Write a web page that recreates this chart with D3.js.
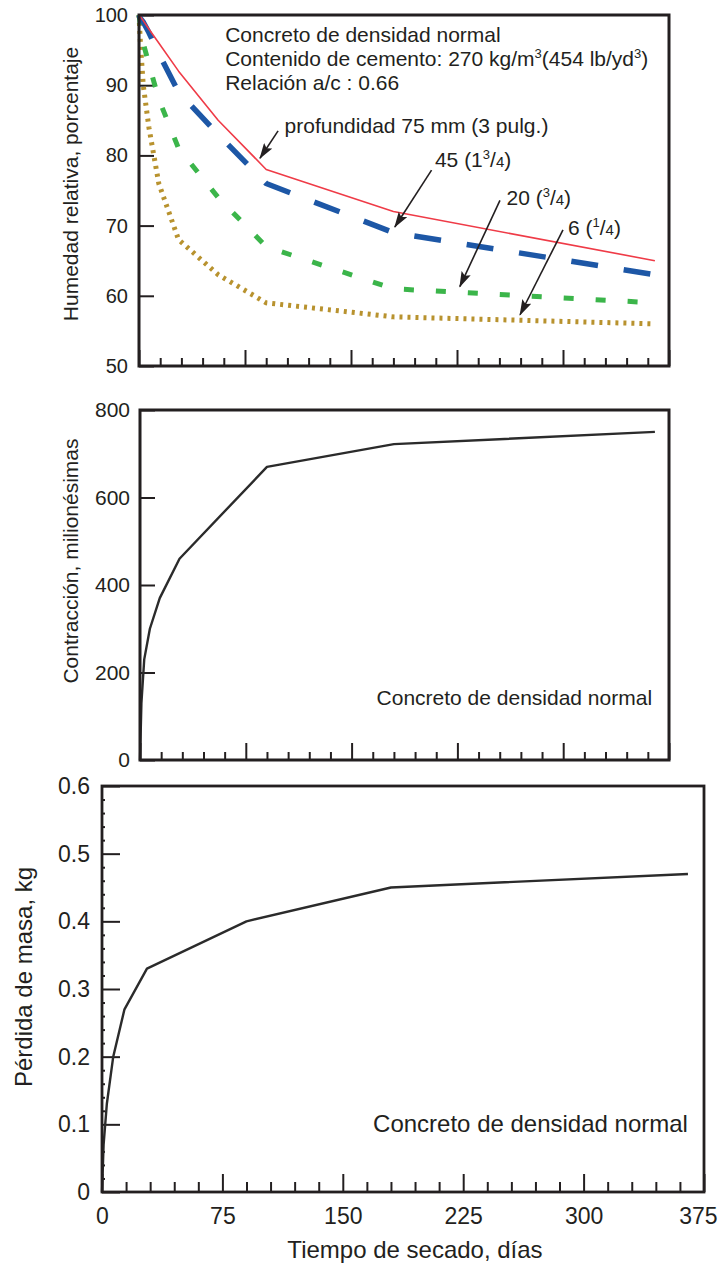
<!DOCTYPE html>
<html>
<head>
<meta charset="utf-8">
<script src="https://cdn.jsdelivr.net/npm/d3@7"></script>
<style>
body { margin: 0; background: #fff; }
svg { display: block; font-family: "Liberation Sans", Arial, sans-serif; }
</style>
</head>
<body>
<svg id="chart"></svg>
<script>
// Data: relative humidity (%) at four depths
const humDays = [0, 1, 3, 7, 14, 28, 56, 90, 180, 365];
const hum75 = [100, 99.8, 99.2, 98, 96, 92, 85, 78, 72, 65];
const hum45 = [100, 99.5, 99, 97.5, 94.5, 89, 83, 76, 69, 63];
const hum20 = [100, 98.5, 96, 93, 88, 81, 74, 67, 61, 59];
const hum6 = [100, 96, 90, 84, 76, 68, 63, 59, 57, 56];

// Data: shrinkage (millionths) and mass loss (kg)
const shrinkDays = [0, 1, 3, 7, 14, 28, 90, 180, 365];
const shrinkVals = [0, 130, 230, 300, 370, 460, 670, 722, 750];
const massDays = [0, 1, 3, 7, 14, 28, 90, 180, 365];
const massVals = [0, 0.07, 0.13, 0.20, 0.27, 0.33, 0.40, 0.45, 0.47];

// Tick values
const xMajor = [0, 75, 150, 225, 300, 375];
const xMinor = d3.range(15, 375, 15).filter(d => d % 75 !== 0);
const humTicks = [50, 60, 70, 80, 90, 100];
const shrinkTicks = [0, 200, 400, 600, 800];
const massTicks = [0, 0.1, 0.2, 0.3, 0.4, 0.5, 0.6];
const massMinor = d3.range(0.02, 0.6, 0.02).filter(d => Math.abs(d * 10 - Math.round(d * 10)) > 0.01);

const ink = "#231f20";
const width = 720;
const height = 1265;

const svg = d3.select("#chart")
    .attr("width", width)
    .attr("height", height);

svg.append("rect").attr("width", width).attr("height", height).attr("fill", "#fff");

// arrow head
svg.append("defs").append("marker")
    .attr("id", "head")
    .attr("viewBox", "0 0 16 10")
    .attr("refX", 15)
    .attr("refY", 5)
    .attr("markerUnits", "userSpaceOnUse")
    .attr("markerWidth", 16)
    .attr("markerHeight", 10)
    .attr("orient", "auto")
    .append("path")
    .attr("d", "M0,0 L16,5 L0,10 L3,5 z")
    .attr("fill", ink);

// Draws frame, ticks and labels of one panel, returns its scales
function drawPanel(p) {
    const x = d3.scaleLinear().domain([0, 375]).range([p.left, p.right]);
    const y = d3.scaleLinear().domain(p.yDomain).range([p.bottom, p.top]);
    const g = svg.append("g");

    // x minor ticks
    g.append("g")
        .attr("transform", `translate(0,${p.bottom})`)
        .call(d3.axisBottom(x).tickValues(xMinor).tickSize(-p.xMinorLen).tickFormat(""));
    // x major ticks
    const xa = g.append("g")
        .attr("transform", `translate(0,${p.bottom})`)
        .call(d3.axisBottom(x).tickValues(xMajor).tickSize(-p.xMajorLen).tickPadding(16)
            .tickFormat(p.xLabels ? d3.format("d") : ""));
    xa.selectAll("text").attr("font-size", p.tickFont).attr("fill", ink)
        .attr("font-family", "Liberation Sans, Arial, sans-serif");
    xa.selectAll("text").filter(d => d === 375).attr("text-anchor", "end").attr("dx", 13);

    if (p.yMinor) {
        g.append("g")
            .attr("transform", `translate(${p.left},0)`)
            .call(d3.axisLeft(y).tickValues(p.yMinor).tickSize(-3).tickFormat(""));
    }
    const ya = g.append("g")
        .attr("transform", `translate(${p.left},0)`)
        .call(d3.axisLeft(y).tickValues(p.yTicks).tickSize(-p.yTickLen).tickPadding(p.yPad)
            .tickFormat(p.yFormat));
    ya.selectAll("text").attr("font-size", p.tickFont).attr("fill", ink)
        .attr("font-family", "Liberation Sans, Arial, sans-serif");

    g.selectAll(".domain").remove();
    g.selectAll(".tick line").attr("stroke", ink).attr("stroke-width", 2);

    // y title
    svg.append("text")
        .attr("transform", `translate(${p.titleX},${p.titleY}) rotate(-90)`)
        .attr("text-anchor", "middle")
        .attr("font-size", p.titleFont)
        .attr("fill", ink)
        .text(p.title);

    return { x, y, g };
}

function frame(p, w) {
    svg.append("rect")
        .attr("x", p.left).attr("y", p.top)
        .attr("width", p.right - p.left).attr("height", p.bottom - p.top)
        .attr("fill", "none").attr("stroke", ink).attr("stroke-width", w);
}

function drawLine(s, days, vals, color, w, dash) {
    const line = d3.line().x(d => s.x(d[0])).y(d => s.y(d[1]));
    svg.append("path")
        .datum(days.map((d, i) => [d, vals[i]]))
        .attr("d", line)
        .attr("fill", "none")
        .attr("stroke", color)
        .attr("stroke-width", w)
        .attr("stroke-dasharray", dash)
        .attr("stroke-linejoin", "round");
}

// ---------- top: relative humidity ----------
const pTop = {
    left: 139, right: 669, top: 15, bottom: 366, yDomain: [50, 100],
    yTicks: humTicks, yTickLen: 15, yPad: 11, yFormat: d3.format("d"),
    xMinorLen: 8, xMajorLen: 16, xLabels: false, tickFont: 20,
    title: "Humedad relativa, porcentaje", titleX: 78, titleY: 184, titleFont: 21
};
const sTop = drawPanel(pTop);
drawLine(sTop, humDays, hum6, "#b8922e", 5, "3,5");
drawLine(sTop, humDays, hum20, "#3bb54a", 5, "10,22");
drawLine(sTop, humDays, hum45, "#1d57a6", 5.5, "27,26");
drawLine(sTop, humDays, hum75, "#ef3b47", 1.6, null);
frame(pTop, 3);

const header = svg.append("text")
    .attr("x", sTop.x(61)).attr("y", sTop.y(96.2))
    .attr("font-size", 21).attr("fill", ink);
header.append("tspan").text("Concreto de densidad normal");
const l2 = svg.append("text")
    .attr("x", sTop.x(61)).attr("y", sTop.y(96.2) + 24)
    .attr("font-size", 21).attr("fill", ink);
l2.append("tspan").text("Contenido de cemento: 270 kg/m");
l2.append("tspan").attr("font-size", 13).attr("dy", -8).text("3");
l2.append("tspan").attr("dy", 8).text("(454 lb/yd");
l2.append("tspan").attr("font-size", 13).attr("dy", -8).text("3");
l2.append("tspan").attr("dy", 8).text(")");
svg.append("text")
    .attr("x", sTop.x(61)).attr("y", sTop.y(96.2) + 48)
    .attr("font-size", 21).attr("fill", ink)
    .text("Relación a/c : 0.66");

// arrow callouts, in data units
const notes = [
    { parts: [["profundidad 75 mm (3 pulg.)"]], tx: 103, ty: 83.2, from: [98.4, 83.5], to: [85.6, 79.6] },
    { parts: [["45 (1"], ["3", "sup"], ["/"], ["4", "small"], [")"]], tx: 209.4, ty: 78.3, from: [207, 77.9], to: [181, 69.8] },
    { parts: [["20 ("], ["3", "sup"], ["/"], ["4", "small"], [")"]], tx: 260, ty: 72.9, from: [255.4, 73.6], to: [227, 61.3] },
    { parts: [["6 ("], ["1", "sup"], ["/"], ["4", "small"], [")"]], tx: 303.5, ty: 68.7, from: [300, 69.4], to: [269.6, 57.3] }
];
notes.forEach(n => {
    svg.append("line")
        .attr("x1", sTop.x(n.from[0])).attr("y1", sTop.y(n.from[1]))
        .attr("x2", sTop.x(n.to[0])).attr("y2", sTop.y(n.to[1]))
        .attr("stroke", ink).attr("stroke-width", 1.6)
        .attr("marker-end", "url(#head)");
    const t = svg.append("text")
        .attr("x", sTop.x(n.tx)).attr("y", sTop.y(n.ty))
        .attr("font-size", 21).attr("fill", ink);
    let up = false;
    n.parts.forEach(([s, kind]) => {
        const ts = t.append("tspan").text(s);
        if (kind === "sup") { ts.attr("font-size", 13).attr("dy", -8); up = true; }
        else if (up) { ts.attr("dy", 8); up = false; }
        if (kind === "small") ts.attr("font-size", 15);
    });
});

// ---------- middle: shrinkage ----------
const pMid = {
    left: 140, right: 669, top: 410, bottom: 760, yDomain: [0, 800],
    yTicks: shrinkTicks, yTickLen: 15, yPad: 10, yFormat: d3.format("d"),
    xMinorLen: 8, xMajorLen: 17, xLabels: false, tickFont: 21,
    title: "Contracción, milionésimas", titleX: 78, titleY: 561, titleFont: 21
};
const sMid = drawPanel(pMid);
drawLine(sMid, shrinkDays, shrinkVals, "#2b2b2b", 2.4, null);
frame(pMid, 3);
svg.append("text")
    .attr("x", sMid.x(363)).attr("y", sMid.y(126))
    .attr("text-anchor", "end").attr("font-size", 21).attr("fill", ink)
    .text("Concreto de densidad normal");

// ---------- bottom: mass loss ----------
const pBot = {
    left: 102, right: 704, top: 786, bottom: 1192, yDomain: [0, 0.6],
    yTicks: massTicks, yMinor: massMinor, yTickLen: 18, yPad: 12,
    yFormat: d => d === 0 ? "0" : d3.format(".1f")(d),
    xMinorLen: 10, xMajorLen: 18, xLabels: true, tickFont: 23,
    title: "Pérdida de masa, kg", titleX: 32, titleY: 977, titleFont: 24
};
const sBot = drawPanel(pBot);
drawLine(sBot, massDays, massVals, "#2b2b2b", 2.4, null);
frame(pBot, 2.8);
svg.append("text")
    .attr("x", sBot.x(365)).attr("y", sBot.y(0.0887))
    .attr("text-anchor", "end").attr("font-size", 24).attr("fill", ink)
    .text("Concreto de densidad normal");

svg.append("text")
    .attr("x", 415).attr("y", 1258)
    .attr("text-anchor", "middle").attr("font-size", 24).attr("fill", ink)
    .text("Tiempo de secado, días");
</script>
</body>
</html>
